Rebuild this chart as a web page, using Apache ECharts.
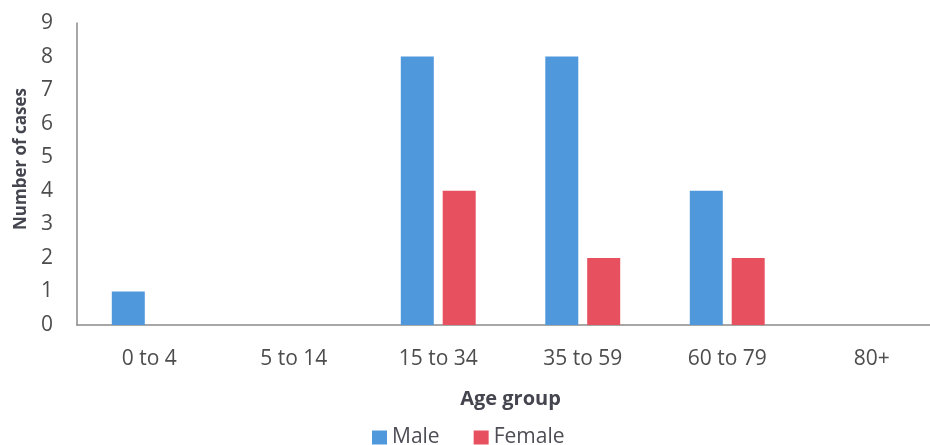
<!DOCTYPE html>
<html>
<head>
<meta charset="utf-8">
<script src="https://cdn.jsdelivr.net/npm/echarts@6/dist/echarts.min.js"></script>
<style>html,body{margin:0;padding:0;background:#fff}#c{width:930px;height:445px}</style>
</head>
<body>
<div id="c"></div>
<script>
const categories = ['0 to 4', '5 to 14', '15 to 34', '35 to 59', '60 to 79', '80+'];
const maleValues = [1, 0, 8, 8, 4, 0];
const femaleValues = [0, 0, 4, 2, 2, 0];
const yTicks = [0, 1, 2, 3, 4, 5, 6, 7, 8, 9];

const FONT = 'Open Sans';
const chart = echarts.init(document.getElementById('c'), null, {renderer: 'canvas'});
chart.setOption({
  animation: false,
  textStyle: {fontFamily: FONT},
  grid: {left: 77, top: 23, right: -14, bottom: 120, containLabel: false, outerBoundsMode: 'none'},
  legend: {
    data: ['Male', 'Female'],
    left: 372, top: 427, padding: 0,
    icon: 'rect', itemWidth: 15, itemHeight: 14, itemGap: 34,
    textStyle: {fontFamily: FONT, fontSize: 21, color: '#4d4d55'}
  },
  xAxis: {
    type: 'category', data: categories,
    name: 'Age group', nameLocation: 'middle', nameGap: 64,
    nameTextStyle: {fontFamily: FONT, fontSize: 20, fontWeight: 'bold', color: '#45454f'},
    axisLine: {lineStyle: {color: '#8a8a8a', width: 1.5}},
    axisTick: {show: false},
    axisLabel: {fontFamily: FONT, fontSize: 21, color: '#4d4d4d', margin: 24}
  },
  yAxis: {
    type: 'value', min: yTicks[0], max: yTicks[yTicks.length - 1], interval: 1,
    name: 'Number of cases', nameLocation: 'middle', nameGap: 44,
    nameTextStyle: {fontFamily: FONT, fontSize: 17, fontWeight: 'bold', color: '#45454f', padding: [0, 0, 0, 30]},
    axisLine: {show: true, lineStyle: {color: '#8a8a8a', width: 1.5}},
    axisTick: {show: false},
    splitLine: {show: false},
    axisLabel: {fontFamily: FONT, fontSize: 21, color: '#4d4d4d', margin: 24}
  },
  series: [
    {name: 'Male', type: 'bar', data: maleValues, barWidth: 33, barGap: '27%', itemStyle: {color: '#4f98dc'}},
    {name: 'Female', type: 'bar', data: femaleValues, barWidth: 33, itemStyle: {color: '#e6505f'}}
  ]
});
</script>
</body>
</html>
